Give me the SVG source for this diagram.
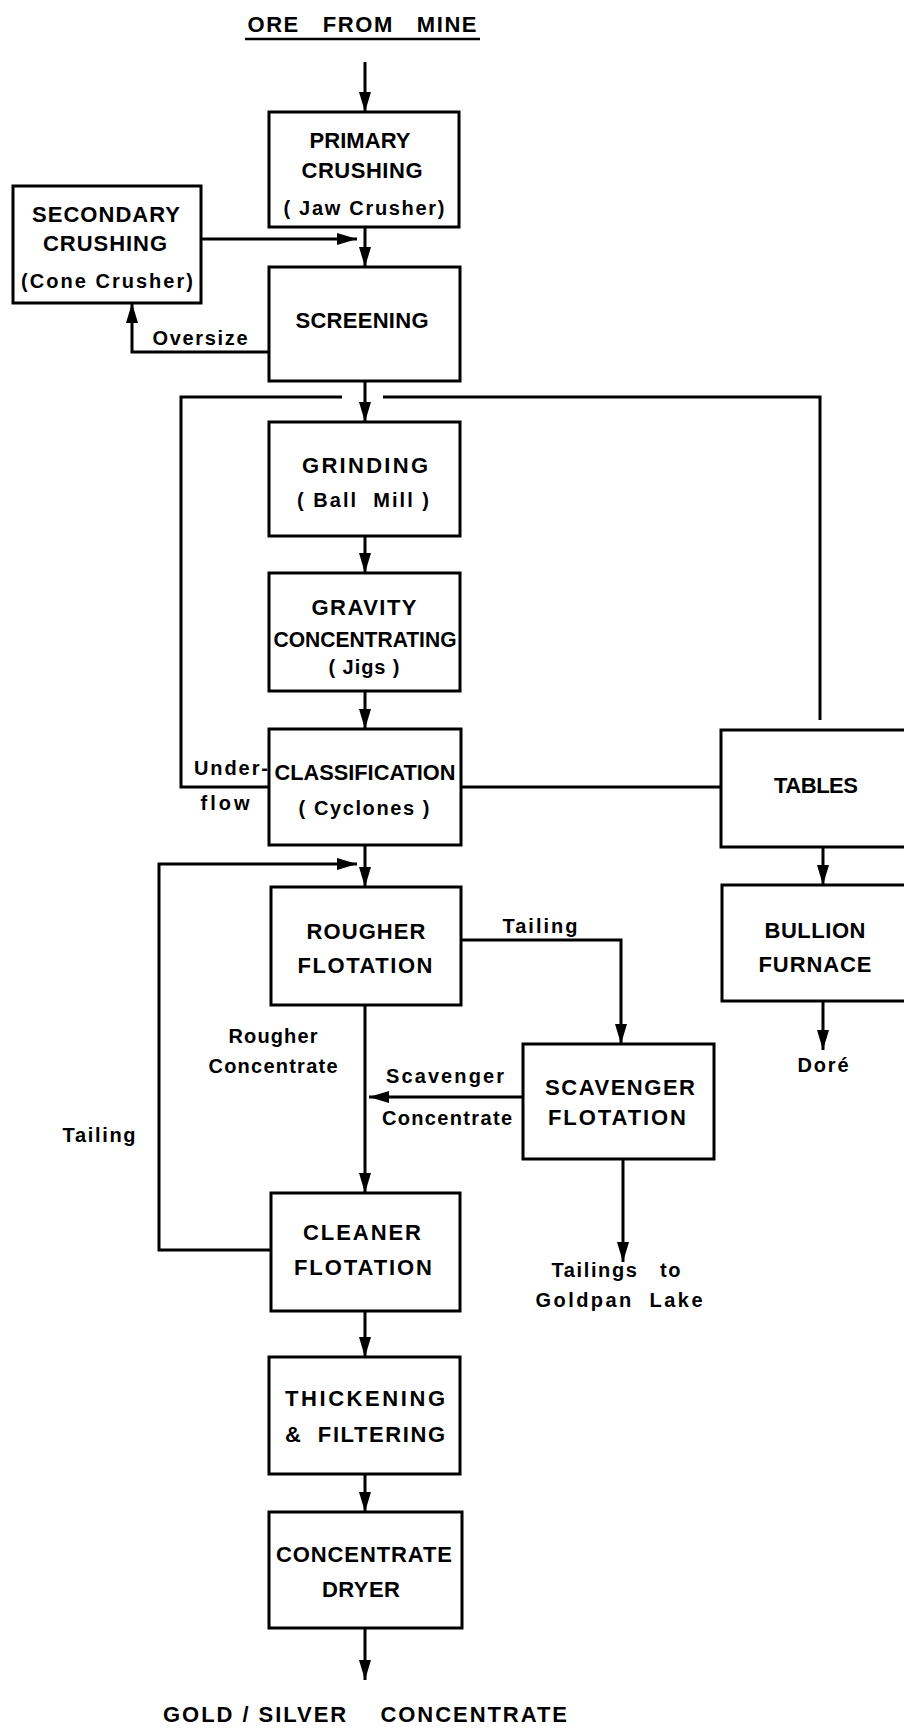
<svg xmlns="http://www.w3.org/2000/svg" width="904" height="1728" viewBox="0 0 904 1728">
<style>
.box{fill:#fff;stroke:#000;stroke-width:3}
.c{fill:none;stroke:#000;stroke-width:3}
.t{font-family:"Liberation Sans",Arial,sans-serif;font-weight:bold;font-size:22px;fill:#000;text-anchor:middle}
.l{font-family:"Liberation Sans",Arial,sans-serif;font-weight:bold;font-size:20px;fill:#000;text-anchor:middle}
.p{white-space:pre}
</style>
<defs>
<marker id="ah" markerUnits="userSpaceOnUse" markerWidth="20" markerHeight="12" refX="20" refY="6" orient="auto">
<path d="M0,0 L20,6 L0,12 Z" fill="#000"/>
</marker>
</defs>
<rect width="904" height="1728" fill="#fff"/>

<g id="connectors">
<path class="c" d="M365,62 V112" marker-end="url(#ah)"/>
<path class="c" d="M365,227 V267" marker-end="url(#ah)"/>
<path class="c" d="M201,239 H357" marker-end="url(#ah)"/>
<path class="c" d="M269,352 H132 V303" marker-end="url(#ah)"/>
<path class="c" d="M365,381 V422" marker-end="url(#ah)"/>
<path class="c" d="M342,397 H181 V787 H269"/>
<path class="c" d="M383,397 H820 V720"/>
<path class="c" d="M461,787 H721"/>
<path class="c" d="M365,536 V573" marker-end="url(#ah)"/>
<path class="c" d="M365,691 V729" marker-end="url(#ah)"/>
<path class="c" d="M365,845 V887" marker-end="url(#ah)"/>
<path class="c" d="M271,1250 H159 V864 H357" marker-end="url(#ah)"/>
<path class="c" d="M461,940 H621 V1044" marker-end="url(#ah)"/>
<path class="c" d="M365,1005 V1193" marker-end="url(#ah)"/>
<path class="c" d="M523,1097 H369" marker-end="url(#ah)"/>
<path class="c" d="M623,1159 V1262" marker-end="url(#ah)"/>
<path class="c" d="M365,1311 V1357" marker-end="url(#ah)"/>
<path class="c" d="M365,1474 V1512" marker-end="url(#ah)"/>
<path class="c" d="M365,1628 V1680" marker-end="url(#ah)"/>
<path class="c" d="M823,847 V885" marker-end="url(#ah)"/>
<path class="c" d="M823,1001 V1050" marker-end="url(#ah)"/>
</g>

<g id="ore">
<text class="t p" xml:space="preserve" x="362" y="32" font-size="23" textLength="229" lengthAdjust="spacing">ORE   FROM   MINE</text>
<line x1="245" y1="39" x2="480" y2="39" stroke="#000" stroke-width="2.5"/>
</g>

<g id="primary">
<rect class="box" x="269" y="112" width="190" height="115"/>
<text class="t" x="360" y="148" textLength="101" lengthAdjust="spacing">PRIMARY</text>
<text class="t" x="362" y="178" textLength="121" lengthAdjust="spacing">CRUSHING</text>
<text class="l" x="364" y="215" textLength="161" lengthAdjust="spacing">( Jaw Crusher)</text>
</g>

<g id="secondary">
<rect class="box" x="13" y="186" width="188" height="117"/>
<text class="t" x="106" y="222" textLength="148" lengthAdjust="spacing">SECONDARY</text>
<text class="t" x="105" y="251" textLength="124" lengthAdjust="spacing">CRUSHING</text>
<text class="l" x="107" y="288" textLength="172" lengthAdjust="spacing">(Cone Crusher)</text>
</g>

<g id="screening">
<rect class="box" x="269" y="267" width="191" height="114"/>
<text class="t" x="362" y="328" textLength="133" lengthAdjust="spacing">SCREENING</text>
</g>
<text class="l" x="200" y="345" textLength="95" lengthAdjust="spacing">Oversize</text>

<g id="grinding">
<rect class="box" x="269" y="422" width="191" height="114"/>
<text class="t" x="365" y="473" textLength="126" lengthAdjust="spacing">GRINDING</text>
<text class="l p" xml:space="preserve" x="363" y="507" textLength="132" lengthAdjust="spacing">( Ball  Mill )</text>
</g>

<g id="gravity">
<rect class="box" x="269" y="573" width="191" height="118"/>
<text class="t" x="364" y="615" textLength="105" lengthAdjust="spacing">GRAVITY</text>
<text class="t" x="365" y="647" textLength="183" lengthAdjust="spacingAndGlyphs">CONCENTRATING</text>
<text class="l" x="364" y="674" textLength="71" lengthAdjust="spacing">( Jigs )</text>
</g>

<g id="classification">
<rect class="box" x="269" y="729" width="192" height="116"/>
<text class="t" x="365" y="780" textLength="181" lengthAdjust="spacingAndGlyphs">CLASSIFICATION</text>
<text class="l" x="364" y="815" textLength="131" lengthAdjust="spacing">( Cyclones )</text>
</g>
<text class="l" x="231" y="775" textLength="74" lengthAdjust="spacing">Under-</text>
<text class="l" x="225" y="810" textLength="49" lengthAdjust="spacing">flow</text>

<g id="tables">
<rect class="box" x="721" y="730" width="190" height="117"/>
<text class="t" x="816" y="793" textLength="84" lengthAdjust="spacing">TABLES</text>
</g>

<g id="rougher">
<rect class="box" x="271" y="887" width="190" height="118"/>
<text class="t" x="366" y="939" textLength="119" lengthAdjust="spacing">ROUGHER</text>
<text class="t" x="365" y="973" textLength="135" lengthAdjust="spacing">FLOTATION</text>
</g>
<text class="l" x="540" y="933" textLength="75" lengthAdjust="spacing">Tailing</text>

<g id="bullion">
<rect class="box" x="722" y="885" width="190" height="116"/>
<text class="t" x="815" y="938" textLength="101" lengthAdjust="spacing">BULLION</text>
<text class="t" x="815" y="972" textLength="113" lengthAdjust="spacing">FURNACE</text>
</g>
<text class="l" x="823" y="1072" textLength="51" lengthAdjust="spacing">Doré</text>

<text class="l" x="273" y="1043" textLength="89" lengthAdjust="spacing">Rougher</text>
<text class="l" x="273" y="1073" textLength="129" lengthAdjust="spacing">Concentrate</text>
<text class="l" x="445" y="1083" textLength="118" lengthAdjust="spacing">Scavenger</text>
<text class="l" x="447" y="1125" textLength="130" lengthAdjust="spacing">Concentrate</text>
<text class="l" x="99" y="1142" textLength="73" lengthAdjust="spacing">Tailing</text>

<g id="scavenger">
<rect class="box" x="523" y="1044" width="191" height="115"/>
<text class="t" x="620" y="1095" textLength="150" lengthAdjust="spacing">SCAVENGER</text>
<text class="t" x="617" y="1125" textLength="138" lengthAdjust="spacing">FLOTATION</text>
</g>

<g id="cleaner">
<rect class="box" x="271" y="1193" width="189" height="118"/>
<text class="t" x="362" y="1240" textLength="118" lengthAdjust="spacing">CLEANER</text>
<text class="t" x="363" y="1275" textLength="138" lengthAdjust="spacing">FLOTATION</text>
</g>

<g id="tailings-out">
<text class="l p" xml:space="preserve" x="616" y="1277" textLength="129" lengthAdjust="spacing">Tailings   to</text>
<text class="l p" xml:space="preserve" x="619" y="1307" textLength="167" lengthAdjust="spacing">Goldpan  Lake</text>
</g>

<g id="thickening">
<rect class="box" x="269" y="1357" width="191" height="117"/>
<text class="t" x="365" y="1406" textLength="160" lengthAdjust="spacing">THICKENING</text>
<text class="t p" xml:space="preserve" x="365" y="1442" textLength="160" lengthAdjust="spacing">&amp;  FILTERING</text>
</g>

<g id="dryer">
<rect class="box" x="269" y="1512" width="193" height="116"/>
<text class="t" x="364" y="1562" textLength="176" lengthAdjust="spacing">CONCENTRATE</text>
<text class="t" x="361" y="1597" textLength="78" lengthAdjust="spacing">DRYER</text>
</g>

<g id="output">
<text class="t p" xml:space="preserve" x="365" y="1722" font-size="23" textLength="404" lengthAdjust="spacing">GOLD / SILVER    CONCENTRATE</text>
</g>
</svg>
